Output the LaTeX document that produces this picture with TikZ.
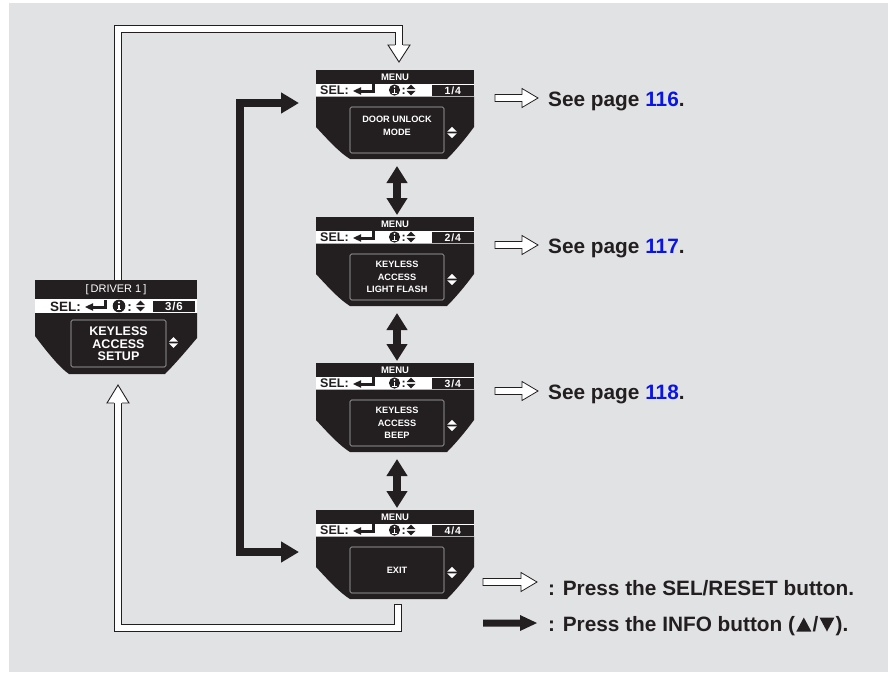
\documentclass[tikz,border=0pt]{standalone}
\usepackage{fontspec}
\setmainfont{Liberation Sans}
\usetikzlibrary{arrows.meta}
\definecolor{bg}{HTML}{E1E2E4}
\definecolor{ink}{HTML}{231F20}
\definecolor{pblue}{HTML}{0A14E6}
\definecolor{frame}{HTML}{B8B8B8}

\newcommand\enterglyph[2]{%
  \fill[ink] (#1,#2) -- ++(8,-3.8) -- ++(0,7.6) -- cycle;
  \fill[ink] (#1+7,#2-1.5) rectangle (#1+22,#2+1.5);
  \fill[ink] (#1+19,#2-7) rectangle (#1+22,#2+1.5);
}
\newcommand\infoicon[3]{%
  \fill[ink] (#1,#2) circle[radius=#3];
  \fill[white] (#1,#2-#3*0.55) circle[radius=#3*0.18];
  \fill[white] (#1-#3*0.17,#2-#3*0.22) rectangle (#1+#3*0.17,#2+#3*0.62);
  \fill[white] (#1-#3*0.36,#2+#3*0.46) rectangle (#1+#3*0.36,#2+#3*0.66);
}
\newcommand\updown[4]{%
  \fill[#4] (#1-#3,#2-0.8) -- (#1,#2-0.8-#3) -- (#1+#3,#2-0.8) -- cycle;
  \fill[#4] (#1-#3,#2+0.8) -- (#1,#2+0.8+#3) -- (#1+#3,#2+0.8) -- cycle;
}
\newcommand\wharrow[4]{%
  \filldraw[fill=white, draw=ink, line width=0.8] (#1,#4-3.5) -- (#2,#4-3.5) -- (#2,#4-9.5) -- (#3,#4) -- (#2,#4+9.5) -- (#2,#4+3.5) -- (#1,#4+3.5) -- cycle;
}
% name, top, page, inner text, text centre y, input arrow y
\newcommand\menuscreen[6]{%
\begin{scope}[shift={(316,#2)}]
  \node[screen, minimum width=158, minimum height=89] (#1) at (0,0) {};
  \coordinate (#1-in) at (-17,#6);
  \fill[ink] (0,0) rectangle (158,13.5);
  \node[hdr] (#1-head) at (79,7) {MENU};
  \fill[white] (0,13.5) rectangle (158,26.5);
  \fill[ink] (116,14.5) rectangle (157.5,25.5);
  \node[pagetxt, anchor=base] (#1-page) at (136.75,24.2) {#3};
  \node[seltxt, anchor=base west] (#1-sel) at (4,24.5) {SEL:};
  \enterglyph{37}{21}
  \infoicon{78.5}{20}{5.6}
  \node[seltxt, anchor=base] (#1-colon) at (87.8,24.5) {:};
  \updown{95}{20}{4.5}{ink}
  \fill[ink] (0,26.5) -- (0,57) .. controls (12,70) and (24,83) .. (34,89) -- (131,89) .. controls (140,80) and (150,68) .. (158,57) -- (158,26.5) -- cycle;
  \draw[frame, line width=0.6, rounded corners=1.5] (34,37) rectangle (128,83);
  \node[innertxt] (#1-text) at (81,#5) {#4};
  \updown{136}{62.5}{4.8}{white}
\end{scope}}

\begin{document}
\begin{tikzpicture}[x=1pt, y=-1pt, line join=miter,
  screen/.style={inner sep=0, outer sep=0, anchor=north west},
  hdr/.style={text=white, inner sep=0, font=\bfseries\fontsize{9.5}{10}\selectfont},
  pagetxt/.style={text=white, inner sep=0, font=\bfseries\fontsize{10.5}{11}\selectfont},
  seltxt/.style={text=ink, inner sep=0, font=\bfseries\fontsize{12.5}{13}\selectfont},
  innertxt/.style={text=white, inner sep=0, align=center, font=\bfseries\fontsize{9.2}{12.5}\selectfont},
  bigtxt/.style={text=ink, inner sep=0, anchor=base west, font=\bfseries\fontsize{20.8}{24}\selectfont},
  whline/.style={draw=ink, line width=0.9, double=white, double distance=6.2},
  dblarrow/.style={draw=ink, line width=8, {Triangle[width=20pt,length=17pt]}-{Triangle[width=20pt,length=17pt]}},
  blkarrow/.style={draw=ink, line width=8, {Triangle[width=20pt,length=18pt]}-{Triangle[width=20pt,length=18pt]}}
]
\useasboundingbox (0,0) rectangle (888,672);
\fill[white] (0,0) rectangle (888,672);
\fill[bg] (9,3) rectangle (888,672);

% ---------- driver screen ----------
\begin{scope}[shift={(35,280)}]
  \node[screen, minimum width=162, minimum height=95] (d) at (0,0) {};
  \fill[ink] (0,0) rectangle (162,19);
  \node[hdr, font=\fontsize{11}{12}\selectfont] (d-head) at (81,10) {[\kern2pt DRIVER 1\kern2pt]};
  \fill[white] (0,19) rectangle (162,33);
  \fill[ink] (118,20.5) rectangle (160,31.5);
  \node[pagetxt, anchor=base, font=\bfseries\fontsize{11.5}{12}\selectfont] (d-page) at (139,30.3) {3\kern0.8pt/\kern0.8pt6};
  \node[seltxt, anchor=base west, font=\bfseries\fontsize{13.5}{14}\selectfont] (d-sel) at (15,31) {SEL:};
  \enterglyph{50}{27}
  \infoicon{84}{26}{6.3}
  \node[seltxt, anchor=base, font=\bfseries\fontsize{13.5}{14}\selectfont] (d-colon) at (94.5,31) {:};
  \updown{105.5}{26}{4.6}{ink}
  \fill[ink] (0,33) -- (0,56) .. controls (12,72) and (25,88) .. (34,94) -- (130,94) .. controls (140,84) and (152,70) .. (162,58) -- (162,33) -- cycle;
  \draw[frame, line width=0.6, rounded corners=1.5] (36,40) rectangle (131,87);
  \node[innertxt, font=\bfseries\fontsize{12.5}{12.5}\selectfont] (d-text) at (83.5,64) {KEYLESS\\ACCESS\\SETUP};
  \updown{138.5}{62.5}{4.6}{white}
\end{scope}

% ---------- menu screens ----------
\menuscreen{s1}{70}{1\kern0.8pt/\kern0.8pt4}{DOOR UNLOCK\\MODE}{56}{33}
\menuscreen{s2}{217}{2\kern0.8pt/\kern0.8pt4}{KEYLESS\\ACCESS\\LIGHT FLASH}{60}{33}
\menuscreen{s3}{363}{3\kern0.8pt/\kern0.8pt4}{KEYLESS\\ACCESS\\BEEP}{60}{33}
\menuscreen{s4}{510}{4\kern0.8pt/\kern0.8pt4}{EXIT}{60.5}{42}

% ---------- double arrows between screens ----------
\draw[dblarrow] ([xshift=2pt,yshift=-7pt]s1.south) -- ([xshift=2pt,yshift=2pt]s2.north);
\draw[dblarrow] ([xshift=2pt,yshift=-7pt]s2.south) -- ([xshift=2pt,yshift=2pt]s3.north);
\draw[dblarrow] ([xshift=2pt,yshift=-7pt]s3.south) -- ([xshift=2pt,yshift=2pt]s4.north);

% ---------- black INFO loop ----------
\coordinate (bt) at (240,103);
\coordinate (bb) at (240,552);
\draw[blkarrow] (s1-in) -- (bt) -- (bb) -- (s4-in);

% ---------- white SEL connectors ----------
\coordinate (w1a) at (118,280);
\coordinate (w1b) at (118,29);
\coordinate (w1c) at (399,29);
\coordinate (w1d) at (399,45.5);
\draw[whline] (w1a) -- (w1b) -- (w1c) -- (w1d);
\fill[white] (388,45) -- (399,62) -- (410,45) -- cycle;
\draw[ink, line width=0.9] (395,45) -- (388,45) -- (399,62) -- (410,45) -- (403,45);

\coordinate (w2a) at (398,604);
\coordinate (w2b) at (398,628);
\coordinate (w2c) at (118,628);
\coordinate (w2d) at (118,402.5);
\draw[whline] (w2a) -- (w2b) -- (w2c) -- (w2d);
\draw[ink, line width=0.9] (394,604) -- (402,604);
\fill[white] (107,403) -- (118,385) -- (129,403) -- cycle;
\draw[ink, line width=0.9] (114,403) -- (107,403) -- (118,385) -- (129,403) -- (122,403);

% ---------- see page ----------
\wharrow{495}{522}{538}{98}
\node[bigtxt] (p1) at (548,106) {See page \textcolor{pblue}{116}.};
\wharrow{495}{522}{538}{245}
\node[bigtxt] (p2) at (548,253) {See page \textcolor{pblue}{117}.};
\wharrow{495}{522}{538}{391}
\node[bigtxt] (p3) at (548,399) {See page \textcolor{pblue}{118}.};

% ---------- legend ----------
\wharrow{483}{521}{537}{582}
\node[bigtxt] (l1) at (548,595) {: Press the SEL/RESET button.};
\fill[ink] (483,619.5) -- (520,619.5) -- (520,615) -- (537,623) -- (520,631) -- (520,626.5) -- (483,626.5) -- cycle;
\node[bigtxt] (l2) at (548,631.5) {: Press the INFO button (};
\fill[ink] ([xshift=1pt]l2.base east) -- ++(15,0) -- ++(-7.5,-14) -- cycle;
\node[bigtxt] (l2s) at ([xshift=17pt]l2.base east) {/};
\fill[ink] ([xshift=1pt,yshift=14pt]l2s.base east) -- ++(15,0) -- ++(-7.5,14) -- cycle;
\node[bigtxt] (l2e) at ([xshift=17pt]l2s.base east) {).};
\end{tikzpicture}
\end{document}
